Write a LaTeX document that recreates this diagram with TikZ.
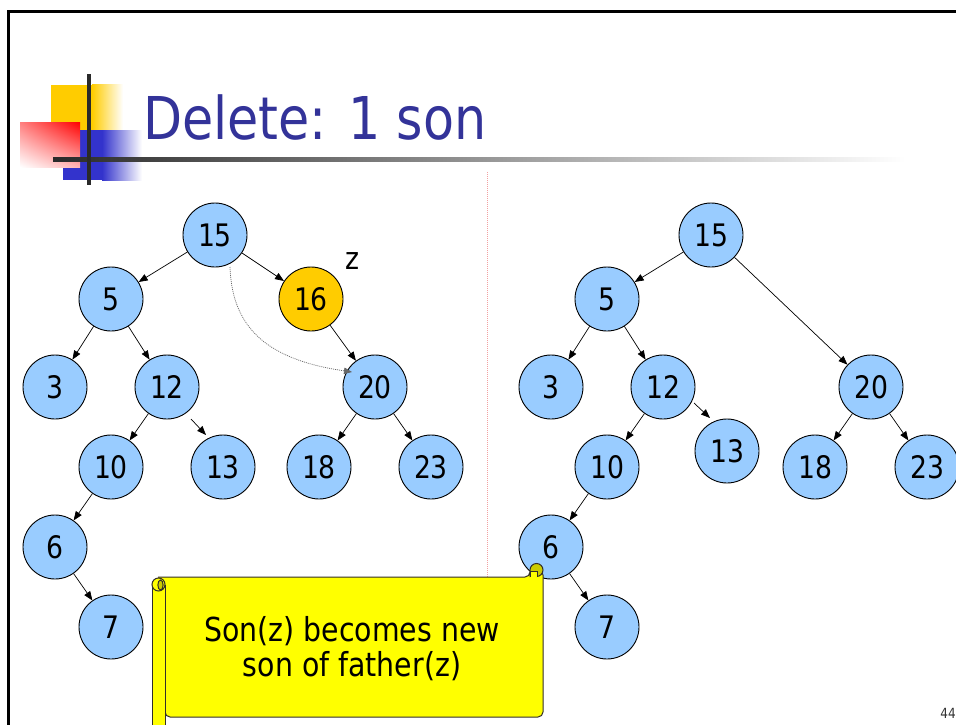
\documentclass[tikz,border=0pt]{standalone}
\usepackage{fontspec}
\setmainfont{DejaVu Sans}[FakeStretch=0.86]
\usetikzlibrary{arrows.meta,calc,shadings}
\definecolor{nodeblue}{HTML}{99CCFF}
\definecolor{zgold}{HTML}{FFCC00}
\definecolor{titleblue}{HTML}{333399}
\definecolor{logoblue}{HTML}{3333CC}
\definecolor{logoyellow}{HTML}{FFCC00}
\definecolor{scrollyellow}{HTML}{FFFF00}
\definecolor{scrolldark}{HTML}{CCCC00}
\definecolor{seppink}{HTML}{F2A0A0}
\definecolor{rulegray}{HTML}{2A2A2A}

\begin{document}
\begin{tikzpicture}[x=1pt,y=-1pt,
  key/.style={circle, draw=black, line width=0.9pt, fill=nodeblue,
    minimum size=64pt, inner sep=0pt, font=\fontsize{31}{31}\selectfont},
  zkey/.style={key, fill=zgold},
  arr/.style={-{Triangle[length=9pt,width=7pt]}, line width=0.7pt},
  relink/.style={-{Triangle[length=8pt,width=6.5pt]}, line width=0.7pt,
    draw=black!60, dash pattern=on 1pt off 1pt},
  scrollline/.style={draw=black!85!olive, line width=1pt},
]
\useasboundingbox (0,0) rectangle (956,725);
\fill[white] (0,0) rectangle (956,725);

% slide frame
\draw[line width=3pt] (8.5,725) -- (8.5,12) -- (956,12);

% logo squares
\fill[logoyellow] (51,85) rectangle (92,130);
\shade[left color=logoyellow, right color=white] (92,85) rectangle (123,130);
\fill[logoblue] (63,130) rectangle (102,180);
\shade[left color=logoblue, right color=white] (102,130) rectangle (142,180);
\shade[upper left=red!50, upper right=red, lower right=red!30, lower left=white]
  (20,122) rectangle (80,167);
% logo cross and title rule
\shade[left color=rulegray, right color=white] (53,157) rectangle (905,161);
\fill[rulegray] (87,74) rectangle (91,185);

% title
\node[anchor=base west, text=titleblue, inner sep=0pt,
  font=\fontsize{59}{59}\selectfont] (title) at (143,139) {Delete: 1 son};

% separator between the two trees
\draw[seppink, line width=1pt, dash pattern=on 1pt off 1pt] (487,172) -- (487,577);

% tree before deletion
\node[key] (a15) at (215,235) {15};
\node[key] (a5) at (111,299) {5};
\node[zkey] (a16) at (311,299) {16};
\node[key] (a3) at (55,387) {3};
\node[key] (a12) at (167,387) {12};
\node[key] (a20) at (375,387) {20};
\node[key] (a10) at (111,467) {10};
\node[key] (a13) at (223,467) {13};
\node[key] (a18) at (319,467) {18};
\node[key] (a23) at (431,467) {23};
\node[key] (a6) at (55,547) {6};
\node[key] (a7) at (111,627) {7};
\node[font=\fontsize{31}{31}\selectfont] (zlab) at (352,261) {z};

\draw[arr] (a15) -- (a5);
\draw[arr] (a15) -- (a16);
\draw[arr] (a16) -- (a20);
\draw[arr] (a5) -- (a3);
\draw[arr] (a5) -- (a12);
\draw[arr] (a12) -- (a10);
\draw[arr] ($(a12)+(24,32)$) -- ($(a13)+(-17,-32)$);
\draw[arr] (a20) -- (a18);
\draw[arr] (a20) -- (a23);
\draw[arr] (a10) -- (a6);
\draw[arr] (a6) -- (a7);
\draw[relink] ($(a15)+(15,32)$) .. controls ($(a15)+(17,95)$) and ($(a20)+(-105,-27)$) .. ($(a20)+(-23,-15)$);

% tree after deletion
\node[key] (b15) at (711,235) {15};
\node[key] (b5) at (607,299) {5};
\node[key] (b3) at (551,387) {3};
\node[key] (b12) at (663,387) {12};
\node[key] (b20) at (871,387) {20};
\node[key] (b10) at (607,467) {10};
\node[key] (b13) at (727,451) {13};
\node[key] (b18) at (815,467) {18};
\node[key] (b23) at (927,467) {23};
\node[key] (b6) at (551,547) {6};
\node[key] (b7) at (607,627) {7};

\draw[arr] (b15) -- (b5);
\draw[arr] (b15) -- (b20);
\draw[arr] (b5) -- (b3);
\draw[arr] (b5) -- (b12);
\draw[arr] (b12) -- (b10);
\draw[arr] ($(b12)+(31,16)$) -- ($(b13)+(-17,-33)$);
\draw[arr] (b20) -- (b18);
\draw[arr] (b20) -- (b23);
\draw[arr] (b10) -- (b6);
\draw[arr] (b6) -- (b7);

% scroll callout
\draw[scrollline, fill=scrollyellow, rounded corners=5pt]
  (158,577) -- (530,577) -- (530,570) -- (543,570) -- (543,717) -- (165,717) -- (165,590);
\fill[scrollyellow] (160,578) rectangle (164,716);
\draw[scrollline, fill=scrolldark] (536.5,570) circle (6.5pt);
\draw[scrollline, fill=scrollyellow] (530,577) -- (530,571) -- (537,571) -- (537,577);
\draw[scrollline, fill=scrollyellow] (152,728) -- (152,585) -- (165,585) -- (165,728);
\draw[scrollline, fill=scrollyellow] (158.5,584.5) circle (6.5pt);
\draw[scrollline, fill=scrolldark] (160.5,585) ellipse (2.6pt and 5pt);
\node[align=center, font=\fontsize{33}{35}\selectfont] (msg) at (352,649)
  {Son(z) becomes new\\son of father(z)};

% page number
\node[anchor=base east, inner sep=0pt, text=black!80,
  font=\fontsize{14}{14}\selectfont] (pg) at (956,718) {44};
\end{tikzpicture}
\end{document}
